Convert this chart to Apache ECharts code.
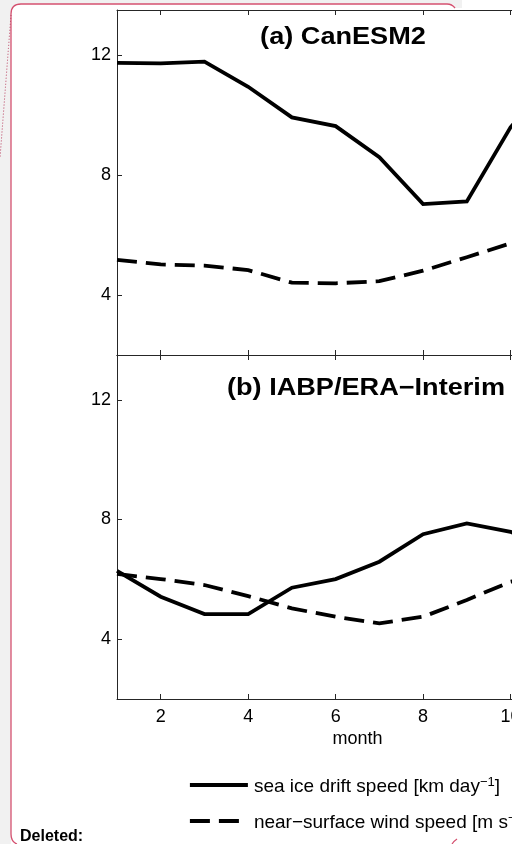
<!DOCTYPE html>
<html><head><meta charset="utf-8">
<script src="https://cdn.jsdelivr.net/npm/echarts@6/dist/echarts.min.js"></script>
<style>html,body{margin:0;padding:0;background:#fff}#c{width:512px;height:844px}</style>
</head><body><div id="c"></div>
<script>
const months = [1,2,3,4,5,6,7,8,9,10,11,12];
const canDrift = [11.74,11.72,11.78,10.94,9.92,9.63,8.59,7.03,7.12,9.59,11.3,11.8];
const canWind  = [5.17,5.02,4.98,4.83,4.41,4.39,4.46,4.81,5.26,5.72,5.9,5.5];
const obsDrift = [6.28,5.42,4.84,4.84,5.72,6.01,6.59,7.51,7.87,7.59,6.9,6.4];
const obsWind  = [6.18,6.01,5.81,5.44,5.03,4.75,4.53,4.75,5.31,5.92,6.2,6.2];
const xTicks = [2,4,6,8,10,12];
const yTicks = [4,8,12];
const panelTitles = ['(a) CanESM2','(b) IABP/ERA\u2212Interim'];
const seriesNames = ['sea ice drift speed','near\u2212surface wind speed'];
const seriesUnits = ['km day','m s'];
const unitPower = '\u22121';
const xName = 'month';

const FONT = 'Liberation Sans, Arial, Helvetica, sans-serif';
const AX = '#262626';
const pairs = v => months.map((m,i)=>[m,v[i]]);

const grids = [
  {left:117, top:10, width:481, height:345, containLabel:false, outerBoundsMode:'none'},
  {left:117, top:355, width:481, height:344, containLabel:false, outerBoundsMode:'none'}
];
const xAxes = [], yAxes = [];
grids.forEach((g,i)=>{
  ['bottom','top'].forEach(pos=>{
    xAxes.push({type:'value', gridIndex:i, position:pos, min:1, max:12,
      axisLine:{show:true,onZero:false,lineStyle:{color:AX,width:1}},
      axisTick:{show:true,inside:true,length:5,customValues:xTicks,lineStyle:{color:AX,width:1}},
      axisLabel:{show:(i===1&&pos==='bottom'),customValues:xTicks,margin:9,color:'#000',fontSize:18,fontFamily:FONT},
      splitLine:{show:false},
      name:(i===1&&pos==='bottom')?xName:'', nameLocation:'middle', nameGap:31,
      nameTextStyle:{color:'#000',fontSize:18,fontFamily:FONT}
    });
  });
  ['left','right'].forEach(pos=>{
    yAxes.push({type:'value', gridIndex:i, position:pos, min:2, max:13.5,
      axisLine:{show:true,onZero:false,lineStyle:{color:AX,width:1}},
      axisTick:{show:true,inside:true,length:5,customValues:yTicks,lineStyle:{color:AX,width:1}},
      axisLabel:{show:pos==='left',customValues:yTicks,margin:6,color:'#000',fontSize:18,fontFamily:FONT},
      splitLine:{show:false}
    });
  });
});

const LW = 3.8;
const solid = {color:'#000', width:LW, type:'solid', cap:'butt', join:'miter'};
const dashed = {color:'#000', width:LW, type:[20,9], cap:'butt', join:'miter'};
const mk = (name, data, gi, ls) => ({type:'line', name, data:pairs(data), xAxisIndex:gi*2, yAxisIndex:gi*2,
  symbol:'none', showSymbol:false, smooth:false, lineStyle:ls, itemStyle:{color:'#000'}, silent:true, animation:false});

const rich = {
  n:{fontSize:19, fontFamily:FONT, color:'#000', lineHeight:22},
  s:{fontSize:13, fontFamily:FONT, color:'#000', lineHeight:13, verticalAlign:'top'}
};
const legendFor = (idx, top) => ({
  data:[seriesNames[idx]], orient:'vertical', left:188, top, itemWidth:58, itemHeight:20, padding:0,
  selectedMode:false, itemGap:0,
  itemStyle:{opacity:0, borderWidth:0},
  lineStyle:{width:LW},
  formatter: name => '{n|' + name + ' [' + seriesUnits[idx] + '}{s|' + unitPower + '}{n|]}',
  textStyle:{rich, padding:[4,0,0,1]}
});

const PINK = '#d4506f';
const pinkLine = {stroke:PINK, lineWidth:1.3, fill:null};
const option = {
  backgroundColor:'#ffffff',
  animation:false,
  grid:grids,
  xAxis:xAxes,
  yAxis:yAxes,
  legend:[legendFor(0,776), legendFor(1,812)],
  series:[
    mk(seriesNames[0], canDrift, 0, solid),
    mk(seriesNames[1], canWind, 0, dashed),
    mk(seriesNames[0], obsDrift, 1, solid),
    mk(seriesNames[1], obsWind, 1, dashed)
  ],
  graphic:[
    {type:'rect', z:-10, shape:{x:0,y:0,width:462,height:8}, style:{fill:'#f1f1f1'}},
    {type:'rect', z:-10, shape:{x:0,y:0,width:11,height:844}, style:{fill:'#f1f1f1'}},
    {type:'rect', z:-9, shape:{x:11,y:4,width:444,height:30,r:[10,4,0,0]}, style:{fill:'#ffffff'}},
    {type:'line', z:-8, shape:{x1:11,y1:14,x2:11,y2:834}, style:pinkLine},
    {type:'bezierCurve', z:-8, shape:{x1:11,y1:14,cpx1:11,cpy1:4,x2:21,y2:4}, style:pinkLine},
    {type:'line', z:-8, shape:{x1:21,y1:4,x2:447,y2:4}, style:pinkLine},
    {type:'bezierCurve', z:-8, shape:{x1:447,y1:4,cpx1:452,cpy1:4,x2:455,y2:8}, style:pinkLine},
    {type:'bezierCurve', z:-8, shape:{x1:11,y1:834,cpx1:11,cpy1:842,x2:17,y2:844}, style:pinkLine},
    {type:'bezierCurve', z:-8, shape:{x1:457,y1:839,cpx1:454,cpy1:841,x2:452,y2:844}, style:pinkLine},
    {type:'bezierCurve', z:-8, shape:{x1:11,y1:15,cpx1:6,cpy1:80,x2:0,y2:158}, style:{stroke:'#b8375a', lineWidth:1, fill:null, lineDash:[1,2]}},
    {type:'text', z:10, x:20, y:837, style:{text:'Deleted:', fill:'#000', font:'bold 16px ' + FONT, verticalAlign:'middle', align:'left'}},
    {type:'text', z:10, x:343, y:37, scaleX:1.13, style:{text:panelTitles[0], fill:'#000', font:'bold 24px ' + FONT, verticalAlign:'middle', align:'center'}},
    {type:'text', z:10, x:366, y:388, scaleX:1.13, style:{text:panelTitles[1], fill:'#000', font:'bold 24px ' + FONT, verticalAlign:'middle', align:'center'}}
  ]
};
echarts.init(document.getElementById('c')).setOption(option);
</script>
</body></html>
